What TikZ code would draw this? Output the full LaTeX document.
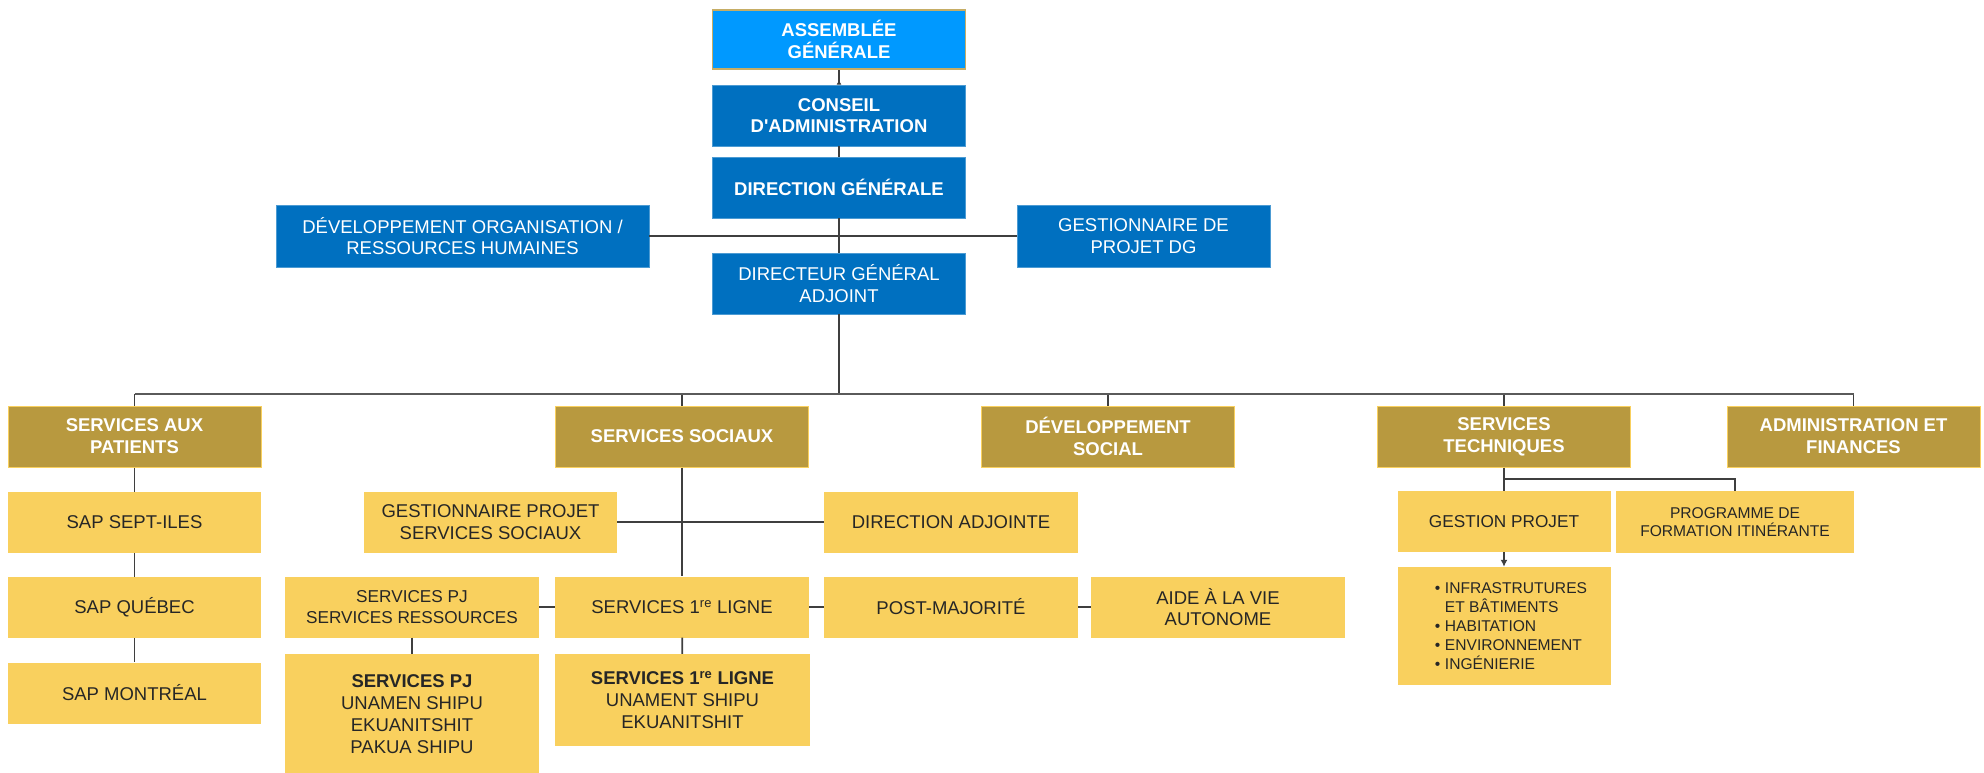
\documentclass[tikz,border=0pt]{standalone}
\usepackage{fontspec}
\setmainfont{Liberation Sans}
\usepackage{xcolor}
\usepackage{tikz}
\usetikzlibrary{positioning}
\usetikzlibrary{arrows.meta}
\definecolor{agblue}{HTML}{0099FF}
\definecolor{orgblue}{HTML}{0070C0}
\definecolor{gold}{HTML}{B8993F}
\definecolor{paleyellow}{HTML}{F9D05E}
\definecolor{linegray}{HTML}{3F3F3F}
\definecolor{busgray}{HTML}{5A5A5A}
\definecolor{ink}{HTML}{262626}
\tikzset{edge/.style = {color=linegray, line width=1.8pt}}
\tikzset{bus/.style = {draw=busgray, line width=2.6pt}}
\newcommand{\itm}{\hspace*{14pt}\makebox[10pt][l]{\textbullet}}

\begin{document}
\begin{tikzpicture}[x=1pt, y=-1pt, node distance=24pt,
    box/.style={rectangle, minimum width=253pt, minimum height=61pt, inner sep=0pt, align=center, font=\fontsize{18.5}{21.5}\selectfont},
    bold/.style={font=\fontsize{18.5}{21.5}\selectfont\bfseries},
    top node/.style={box, bold, minimum height=59pt, fill=agblue, draw=gold!80!white, line width=1.2pt, text=white},
    blue node/.style={box, fill=orgblue, draw=orgblue!70!white, line width=0.6pt, text=white},
    head node/.style={box, fill=gold, draw=paleyellow, line width=1pt, text=white, font=\fontsize{18.5}{22}\selectfont\bfseries},
    unit node/.style={box, fill=paleyellow, text=ink}]
    \useasboundingbox (0,0) rectangle (1984,773);

    % direction
    \node[top node] (ag) at (839,39.5) {ASSEMBLÉE\\GÉNÉRALE};
    \node[blue node, bold] (ca) at (839,115.5) {CONSEIL\\D\textquotesingle ADMINISTRATION};
    \node[blue node, bold] (dg) at (839,187.5) {DIRECTION GÉNÉRALE};
    \node[blue node] (dga) at (839,283.5) {DIRECTEUR GÉNÉRAL\\ADJOINT};
    \node[blue node, minimum width=373pt, minimum height=62pt] (devorg) at (462.5,236) {DÉVELOPPEMENT ORGANISATION /\\RESSOURCES HUMAINES};
    \node[blue node, minimum height=62pt] (gestdg) at (1143.5,236) {GESTIONNAIRE DE\\PROJET DG};

    % services
    \node[head node] (sap) at (134.5,436.5) {SERVICES AUX\\PATIENTS};
    \node[head node] (ss) at (682,436.5) {SERVICES SOCIAUX};
    \node[head node] (ds) at (1108,436.5) {DÉVELOPPEMENT\\SOCIAL};
    \node[head node] (st) at (1504,436.5) {SERVICES\\TECHNIQUES};
    \node[head node] (af) at (1853.5,436.5) {ADMINISTRATION ET\\FINANCES};

    % services aux patients
    \node[unit node] (sept) [below=of sap] {SAP SEPT-ILES};
    \node[unit node] (qc) [below=of sept] {SAP QUÉBEC};
    \node[unit node] (mtl) [below=of qc] {SAP MONTRÉAL};

    % services sociaux
    \node[unit node] (gpss) at (490.5,522) {GESTIONNAIRE PROJET\\SERVICES SOCIAUX};
    \node[unit node, minimum width=254pt] (da) at (951,522) {DIRECTION ADJOINTE};
    \node[unit node, font=\fontsize{17.2}{20.7}\selectfont, minimum width=254pt] (pjres) at (412,607) {SERVICES PJ\\SERVICES RESSOURCES};
    \node[unit node, minimum width=254pt] (s1l) at (682,607) {SERVICES 1\textsuperscript{re} LIGNE};
    \node[unit node, minimum width=254pt] (pm) at (951,607) {POST-MAJORITÉ};
    \node[unit node, minimum width=254pt] (ava) at (1218,607) {AIDE À LA VIE\\AUTONOME};
    \node[unit node, font=\fontsize{18.5}{22.2}\selectfont, minimum width=254pt, minimum height=120pt] (pjb) at (412,714) {\textbf{SERVICES PJ}\\UNAMEN SHIPU\\EKUANITSHIT\\PAKUA SHIPU};
    \node[unit node, font=\fontsize{18.5}{22.2}\selectfont, minimum width=255pt, minimum height=92pt] (s1lb) at (682.5,700) {\textbf{SERVICES 1\textsuperscript{re} LIGNE}\\UNAMENT SHIPU\\EKUANITSHIT};

    % services techniques
    \node[unit node, font=\fontsize{17.2}{20}\selectfont, minimum width=213pt] (gp) at (1504,521.5) {GESTION PROJET};
    \node[unit node, font=\fontsize{15.6}{18.3}\selectfont, minimum width=238pt, minimum height=62pt] (pfi) at (1735,522) {PROGRAMME DE\\FORMATION ITINÉRANTE};
    \node[unit node, font=\fontsize{15.6}{19}\selectfont, minimum width=213pt, minimum height=118pt, align=left] (works) at (1504,626)
        {\itm INFRASTRUTURES\\\hspace*{24pt}ET BÂTIMENTS\\\itm HABITATION\\\itm ENVIRONNEMENT\\\itm INGÉNIERIE};

    \coordinate (bus) at (839,394);
    \coordinate (stfork) at (1504,479);

    \draw[edge, {Latex[reversed,length=5pt,width=5pt]}-] (ca) -- (ag);
    \path[edge]
        (ca) edge (dg)
        (dg) edge (dga)
        (devorg) edge (gestdg)
        (dga) edge (bus)
        (sap.north |- bus) edge (sap)
        (ss.north |- bus) edge (ss)
        (ds.north |- bus) edge (ds)
        (st.north |- bus) edge (st)
        (af.north |- bus) edge (af)
        (sap) edge (sept)
        (sept) edge (qc)
        (qc) edge (mtl)
        (ss) edge (s1l)
        (gpss) edge (da)
        (pjres) edge (s1l)
        (s1l) edge (pm)
        (pm) edge (ava)
        (pjres) edge (pjb)
        (s1l) edge (s1lb)
        (st) edge (gp)
        ;
    \draw[bus] (sap.north |- bus) -- (af.north |- bus);
    \draw[edge] (stfork) -| (pfi.north);
    \draw[edge, -{Latex[length=7pt,width=7pt]}] (gp) -- (works);
\end{tikzpicture}
\end{document}
